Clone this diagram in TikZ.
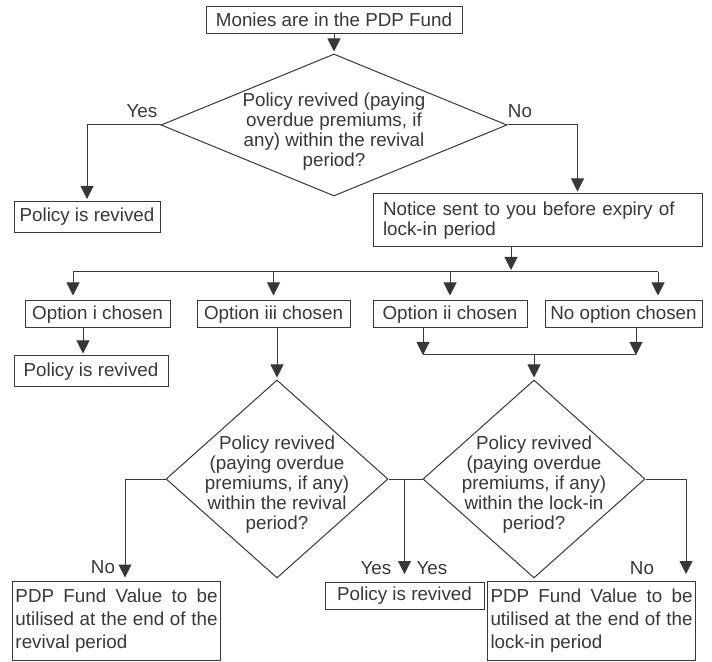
\documentclass[tikz,border=0pt]{standalone}
\usepackage{fontspec}
\setmainfont{Liberation Sans}
\usepackage{tikz}
\usetikzlibrary{shapes.geometric, arrows.meta}
\definecolor{ink}{RGB}{55,55,55}

\begin{document}
\begin{tikzpicture}[x=0.5pt,y=0.5pt,yscale=-1,xscale=1,
  every node/.style={font=\fontsize{9.4}{10}\selectfont, text=ink},
  box/.style={draw=ink, line width=0.5pt, inner sep=0pt, minimum height=13.5pt},
  tallbox/.style={box, minimum height=15.5pt},
  textbox/.style={draw=ink, line width=0.5pt, inner xsep=1.5pt, inner ysep=2pt, text width=101pt, minimum height=39.5pt, align=justify, font=\fontsize{9.4}{11.5}\selectfont},
  decision/.style={diamond, draw=ink, line width=0.5pt, inner sep=0pt},
  dectext/.style={align=center, inner sep=0pt},
  arr/.style={draw=ink, line width=0.5pt, shorten >=1pt, -{Triangle[width=6.5pt,length=6.5pt]}},
  conn/.style={draw=ink, line width=0.5pt}
]
\useasboundingbox (0,0) rectangle (712,662);

% Text Node
\node[box, minimum width=128pt] (fund) at (334,20) {Monies are in the PDP Fund};
%Shape: Diamond
\node[decision, minimum width=173pt, minimum height=71pt] (dec1) at (334,125) {};
\node[dectext] (dec1txt) at (334,132) {Policy revived (paying\\overdue premiums, if\\any) within the revival\\period?};
% Text Node
\node (yes1) at (142,111) {Yes};
\node (no1) at (520,111) {No};
\node[tallbox, minimum width=73pt] (rev1) at (87,217) {Policy is revived};
\node[box, inner xsep=5pt, text width=154.5pt, minimum height=26.5pt, align=left] (notice) at (537.5,220.5) {Notice sent to you before expiry of\\lock-in period};

% Text Node
\node[box, minimum width=72.5pt] (opt1) at (97.5,314.5) {Option i chosen};
\node[box, minimum width=76.5pt] (opt3) at (273.5,314.5) {Option iii chosen};
\node[box, minimum width=77pt] (opt2) at (450,314.5) {Option ii chosen};
\node[box, minimum width=78.5pt] (opt0) at (623.5,314.5) {No option chosen};
\node[tallbox, minimum width=77pt] (rev2) at (91,371.5) {Policy is revived};

%Shape: Diamond
\node[decision, minimum width=111pt, minimum height=99pt] (dec2) at (277,479) {};
\node[dectext] (dec2txt) at (277,485) {Policy revived\\(paying overdue\\premiums, if any)\\within the revival\\period?};
\node[decision, minimum width=111pt, minimum height=99pt] (dec3) at (534,479) {};
\node[dectext] (dec3txt) at (534,485) {Policy revived\\(paying overdue\\premiums, if any)\\within the lock-in\\period?};

% Text Node
\node (no2) at (103,567) {No};
\node (yes2) at (376,568) {Yes};
\node (yes3) at (432,568) {Yes};
\node (no3) at (642,568) {No};
\node[box, minimum width=79.5pt] (rev3) at (404.5,596) {Policy is revived};
\node[textbox] (fund1) at (116.5,620.5) {PDP Fund Value to be\linebreak utilised at the end of the\linebreak revival period};
\node[textbox] (fund2) at (591.5,621) {PDP Fund Value to be\linebreak utilised at the end of the\linebreak lock-in period};

\coordinate (bus) at (511,272);
\coordinate (busL) at (73,272);
\coordinate (busR) at (658,272);
\coordinate (merge) at (535,355);
\coordinate (mergeL) at (423,355);
\coordinate (mergeR) at (636,355);

%Straight Lines
\draw[arr] (fund) -- (dec1);
\draw[arr] (dec1.west) -| (rev1.north);
\draw[arr] (dec1.east) -| ([xshift=20pt]notice.north);
\draw[arr] (notice.south -| bus) -- (bus);
\draw[conn] (busL) -- (busR);
\draw[arr, shorten >=2.5pt] (busL) -- (busL |- opt1.north);
\draw[arr, shorten >=2.5pt] (opt3.north |- bus) -- (opt3.north);
\draw[arr, shorten >=2.5pt] (opt2.north |- bus) -- (opt2.north);
\draw[arr, shorten >=2.5pt] (busR) -- (busR |- opt0.north);
\draw[arr] ([xshift=-7.25pt]opt1.south) -- ([xshift=-4pt]rev2.north);
\draw[arr] (opt3.south -| dec2.north) -- (dec2.north);
%Straight Lines
\draw[arr, shorten >=0pt] (mergeL |- opt2.south) -- (mergeL);
\draw[arr, shorten >=0pt] (mergeR |- opt0.south) -- (mergeR);
\draw[conn] (mergeL) -- (mergeR);
\draw[arr] (merge -| dec3.north) -- (dec3.north);
%Straight Lines
\draw[arr, shorten >=1.5pt] (dec2.west) -| ([xshift=4.25pt]fund1.north);
\draw[conn] (dec2.east) -- (dec3.west);
\draw[arr, shorten >=4pt] (dec2.east -| rev3.north) -- (rev3.north);
\draw[arr, shorten >=3.5pt] (dec3.east) -| ([xshift=47.25pt]fund2.north);

\end{tikzpicture}
\end{document}
